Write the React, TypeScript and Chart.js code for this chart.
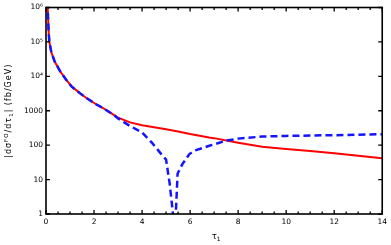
import React, { useEffect, useRef } from "react";
import { Chart, registerables } from "chart.js";

Chart.register(...registerables);

const redTau = [0.06, 0.07, 0.11, 0.14, 0.22, 0.36, 0.59, 0.83, 1.06, 1.41, 1.68, 2.1, 2.37, 2.79, 3.0, 3.5, 4.0, 4.5, 5.0, 5.5, 6.0, 6.79, 7.0, 8.0, 9.0, 10, 11, 12, 13, 14];
const redVal = [1500000, 1000000, 195000, 100000, 51000, 27000, 14000, 8100, 5100, 3250, 2350, 1520, 1200, 780, 630, 460, 380, 330, 290, 250, 210, 167, 160, 118, 90, 78, 68, 58, 49, 42];

const blueTau = [0.06, 0.07, 0.11, 0.14, 0.22, 0.36, 0.59, 0.83, 1.06, 1.41, 1.68, 2.1, 2.37, 2.79, 3.0, 3.5, 4.0, 4.4, 4.8, 5.0, 5.15, 5.27, 5.36, 5.48, 5.69, 5.97, 6.17, 6.8, 7.5, 8.0, 9.0, 10, 12, 14];
const blueVal = [1500000, 1000000, 195000, 100000, 51000, 27000, 14000, 8100, 5100, 3250, 2350, 1520, 1200, 780, 600, 360, 235, 120, 55, 38, 7.6, 1.3, 0.2, 15, 29, 55, 69, 96, 135, 155, 178, 186, 195, 208];

const xTicks = [0, 2, 4, 6, 8, 10, 12, 14];
const yTicks = [1, 10, 100, 1000, 10000, 100000, 1000000];
const yTickLabels = ["1", "10", "100", "1000", "10\u2074", "10\u2075", "10\u2076"];

const FONT = "DejaVu Sans";

const framePlugin = {
  id: "frame",
  afterDraw(chart: any) {
    const { ctx, chartArea: a, scales } = chart;
    const xs = scales.x;
    const ys = scales.y;
    ctx.save();
    ctx.strokeStyle = "#000";
    ctx.lineWidth = 1.6;
    ctx.strokeRect(a.left, a.top, a.right - a.left, a.bottom - a.top);
    ctx.lineWidth = 1.3;
    ctx.beginPath();
    for (let v = 0; v <= 14.001; v += 0.5) {
      const px = xs.getPixelForValue(v);
      const len = Math.abs(v % 2) < 1e-6 ? 4 : 2.5;
      ctx.moveTo(px, a.bottom);
      ctx.lineTo(px, a.bottom - len);
      ctx.moveTo(px, a.top);
      ctx.lineTo(px, a.top + len);
    }
    for (const v of yTicks) {
      const py = ys.getPixelForValue(v);
      ctx.moveTo(a.left, py);
      ctx.lineTo(a.left + 4, py);
      ctx.moveTo(a.right, py);
      ctx.lineTo(a.right - 4, py);
    }
    ctx.stroke();

    // y title
    ctx.fillStyle = "#000";
    ctx.textBaseline = "alphabetic";
    const cx = 11;
    const cy = (a.top + a.bottom) / 2;
    ctx.translate(cx, cy);
    ctx.rotate(-Math.PI / 2);
    const parts: [string, number, number][] = [
      ["|d\u03c3", 8, 0],
      ["FO", 5.5, -3.5],
      ["/d\u03c4", 8, 0],
      ["1", 5.5, 2],
      ["| (fb/GeV)", 8, 0],
    ];
    const spacing = 1;
    (ctx as any).letterSpacing = `${spacing}px`;
    let total = 0;
    for (const [t, s] of parts) {
      ctx.font = `${s}px ${FONT}`;
      total += ctx.measureText(t).width;
    }
    let x = -total / 2;
    for (const [t, s, dy] of parts) {
      ctx.font = `${s}px ${FONT}`;
      ctx.fillText(t, x, dy);
      x += ctx.measureText(t).width;
    }
    ctx.restore();

    // x title
    ctx.save();
    ctx.fillStyle = "#000";
    const mx = (a.left + a.right) / 2 + 2;
    ctx.font = `8.5px ${FONT}`;
    const w1 = ctx.measureText("\u03c4").width;
    ctx.font = `6px ${FONT}`;
    const w2 = ctx.measureText("1").width;
    const sx = mx - (w1 + w2) / 2;
    ctx.font = `8.5px ${FONT}`;
    ctx.fillText("\u03c4", sx, 239);
    ctx.font = `6px ${FONT}`;
    ctx.fillText("1", sx + w1, 241);
    ctx.restore();
  },
};

export default function App() {
  const ref = useRef<HTMLCanvasElement>(null);
  useEffect(() => {
    document.body.style.margin = "0";
    const chart = new Chart(ref.current!, {
      type: "line",
      data: {
        datasets: [
          {
            data: blueTau.map((t, i) => ({ x: t, y: blueVal[i] })),
            borderColor: "rgb(20,20,255)",
            borderWidth: 2.5,
            borderDash: [7, 4],
            pointRadius: 0,
            fill: false,
            tension: 0,
          },
          {
            data: redTau.map((t, i) => ({ x: t, y: redVal[i] })),
            borderColor: "rgb(255,0,0)",
            borderWidth: 2,
            pointRadius: 0,
            fill: false,
            tension: 0,
          },
        ],
      },
      options: {
        animation: false,
        responsive: false,
        layout: { padding: { left: 0, top: 5, right: 7, bottom: 0 } },
        plugins: { legend: { display: false }, tooltip: { enabled: false } },
        scales: {
          x: {
            type: "linear",
            min: 0,
            max: 14,
            grid: { display: false, drawTicks: false },
            border: { display: false },
            afterBuildTicks: (s: any) => {
              s.ticks = xTicks.map((v) => ({ value: v }));
            },
            afterFit: (s: any) => {
              s.height = 31;
            },
            ticks: {
              color: "#000",
              padding: 4,
              maxRotation: 0,
              font: { family: FONT, size: 7.5 },
              callback: (v: any) => String(v),
            },
          },
          y: {
            type: "logarithmic",
            min: 1,
            max: 1000000,
            grid: { display: false, drawTicks: false },
            border: { display: false },
            afterBuildTicks: (s: any) => {
              s.ticks = yTicks.map((v) => ({ value: v }));
            },
            afterFit: (s: any) => {
              s.width = 46;
            },
            ticks: {
              color: "#000",
              padding: 3,
              font: { family: FONT, size: 7.5 },
              callback: (v: any) => {
                const i = yTicks.indexOf(Number(v));
                return i >= 0 ? yTickLabels[i] : "";
              },
            },
          },
        },
      },
      plugins: [framePlugin],
    });
    return () => chart.destroy();
  }, []);
  return (
    <div style={{ position: "absolute", left: 0, top: 0 }}>
      <canvas ref={ref} width={391} height={245} style={{ width: 391, height: 245 }} />
    </div>
  );
}
